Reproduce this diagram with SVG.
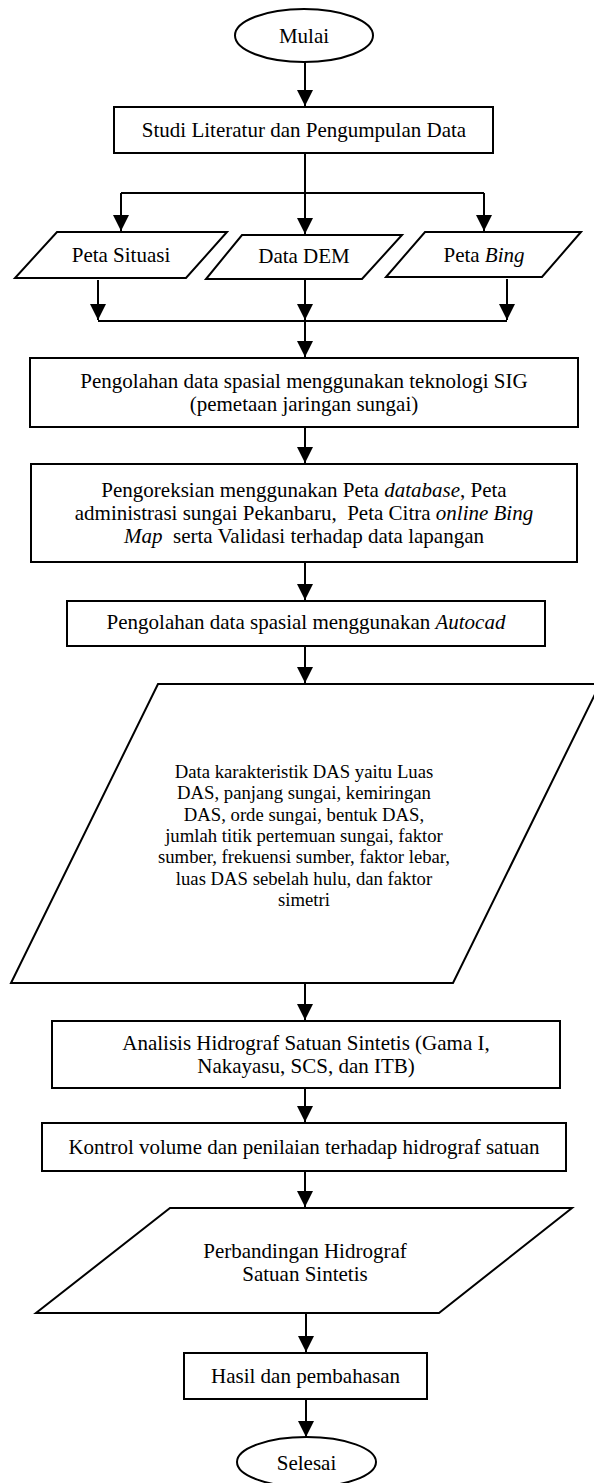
<svg xmlns="http://www.w3.org/2000/svg" width="594" height="1483" viewBox="0 0 594 1483">
<style>
.s{fill:#fff;stroke:#000;stroke-width:2}
.c{fill:none;stroke:#000;stroke-width:2}
.t{font-family:"Liberation Serif","Times New Roman",serif;font-size:21px;fill:#000;text-anchor:middle}
.m{font-size:18.7px}
.i{font-style:italic}
</style>
<defs>
<marker id="ah" markerUnits="userSpaceOnUse" markerWidth="16" markerHeight="16" refX="16" refY="8" orient="auto">
<path d="M0,0 L16,8 L0,16 z" fill="#000"/>
</marker>
</defs>
<rect width="594" height="1483" fill="#fff"/>
<g id="connectors">
<line class="c" x1="305" y1="62" x2="305" y2="106" marker-end="url(#ah)"/>
<polyline class="c" points="305,153 305,193"/>
<polyline class="c" points="121,193 484,193"/>
<line class="c" x1="121" y1="193" x2="121" y2="231" marker-end="url(#ah)"/>
<line class="c" x1="305" y1="193" x2="305" y2="234" marker-end="url(#ah)"/>
<line class="c" x1="484" y1="193" x2="484" y2="231" marker-end="url(#ah)"/>
<line class="c" x1="98" y1="280" x2="98" y2="320" marker-end="url(#ah)"/>
<line class="c" x1="305" y1="280" x2="305" y2="320" marker-end="url(#ah)"/>
<line class="c" x1="507" y1="279" x2="507" y2="320" marker-end="url(#ah)"/>
<polyline class="c" points="98,321 507,321"/>
<line class="c" x1="305" y1="321" x2="305" y2="357" marker-end="url(#ah)"/>
<line class="c" x1="305" y1="427" x2="305" y2="463" marker-end="url(#ah)"/>
<line class="c" x1="305" y1="562" x2="305" y2="600" marker-end="url(#ah)"/>
<line class="c" x1="305" y1="646" x2="305" y2="683" marker-end="url(#ah)"/>
<line class="c" x1="305" y1="983" x2="305" y2="1020" marker-end="url(#ah)"/>
<line class="c" x1="305" y1="1088" x2="305" y2="1122" marker-end="url(#ah)"/>
<line class="c" x1="305" y1="1171" x2="305" y2="1207" marker-end="url(#ah)"/>
<line class="c" x1="306" y1="1313" x2="306" y2="1352" marker-end="url(#ah)"/>
<line class="c" x1="306" y1="1399" x2="306" y2="1437" marker-end="url(#ah)"/>
</g>
<g id="mulai">
<ellipse class="s" cx="304" cy="35.5" rx="69" ry="26.5"/>
<text class="t" x="304" y="43">Mulai</text>
</g>
<g id="studi">
<rect class="s" x="114" y="107" width="379" height="46"/>
<text class="t" x="304" y="137">Studi Literatur dan Pengumpulan Data</text>
</g>
<g id="peta-situasi">
<polygon class="s" points="57,232 227,232 186,278 15,278"/>
<text class="t" x="121" y="262">Peta Situasi</text>
</g>
<g id="data-dem">
<polygon class="s" points="242,235 402,235 362,279 206,279"/>
<text class="t" x="304" y="263">Data DEM</text>
</g>
<g id="peta-bing">
<polygon class="s" points="425,232 581,232 542,277 386,277"/>
<text class="t" x="484" y="262">Peta <tspan class="i">Bing</tspan></text>
</g>
<g id="pengolahan-sig">
<rect class="s" x="30" y="358" width="548" height="69"/>
<text class="t" x="304" y="388">Pengolahan data spasial menggunakan teknologi SIG</text>
<text class="t" x="304" y="411">(pemetaan jaringan sungai)</text>
</g>
<g id="pengoreksian">
<rect class="s" x="31" y="464" width="546" height="98"/>
<text class="t" x="304" y="497">Pengoreksian menggunakan Peta <tspan class="i">database</tspan>, Peta</text>
<text class="t" x="304" y="520" xml:space="preserve">administrasi sungai Pekanbaru,  Peta Citra <tspan class="i">online Bing</tspan></text>
<text class="t" x="304" y="543" xml:space="preserve"><tspan class="i">Map</tspan>  serta Validasi terhadap data lapangan</text>
</g>
<g id="pengolahan-autocad">
<rect class="s" x="67" y="601" width="478" height="45"/>
<text class="t" x="306" y="629">Pengolahan data spasial menggunakan <tspan class="i">Autocad</tspan></text>
</g>
<g id="data-karakteristik">
<polygon class="s" points="158,684 600,684 453,983 11,983"/>
<text class="t m" x="304" y="778">Data karakteristik DAS yaitu Luas</text>
<text class="t m" x="304" y="799.3">DAS, panjang sungai, kemiringan</text>
<text class="t m" x="304" y="820.6">DAS, orde sungai, bentuk DAS,</text>
<text class="t m" x="304" y="842">jumlah titik pertemuan sungai, faktor</text>
<text class="t m" x="304" y="863.3">sumber, frekuensi sumber, faktor lebar,</text>
<text class="t m" x="304" y="884.6">luas DAS sebelah hulu, dan faktor</text>
<text class="t m" x="304" y="906">simetri</text>
</g>
<g id="analisis">
<rect class="s" x="52" y="1021" width="508" height="67"/>
<text class="t" x="306" y="1050">Analisis Hidrograf Satuan Sintetis (Gama I,</text>
<text class="t" x="306" y="1073">Nakayasu, SCS, dan ITB)</text>
</g>
<g id="kontrol">
<rect class="s" x="42" y="1123" width="524" height="48"/>
<text class="t" x="304" y="1154">Kontrol volume dan penilaian terhadap hidrograf satuan</text>
</g>
<g id="perbandingan">
<polygon class="s" points="170,1208 572,1208 439,1313 36,1313"/>
<text class="t" x="305" y="1258">Perbandingan Hidrograf</text>
<text class="t" x="305" y="1281">Satuan Sintetis</text>
</g>
<g id="hasil">
<rect class="s" x="184" y="1353" width="243" height="46"/>
<text class="t" x="305.5" y="1383">Hasil dan pembahasan</text>
</g>
<g id="selesai">
<ellipse class="s" cx="306.5" cy="1462" rx="69.5" ry="25"/>
<text class="t" x="306.5" y="1470">Selesai</text>
</g>
</svg>
